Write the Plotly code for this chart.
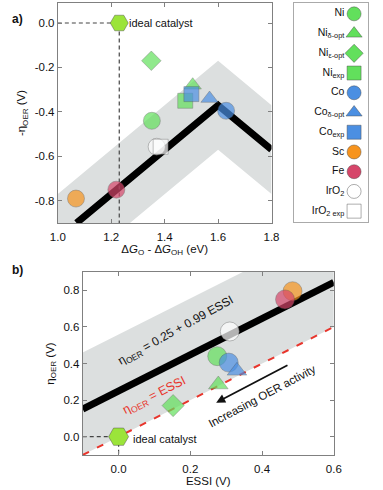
import plotly.graph_objects as go

# catalysts (same order in both panels and in the legend)
names = ["Ni", "Ni<sub>δ-opt</sub>", "Ni<sub>ε-opt</sub>", "Ni<sub>exp</sub>",
         "Co", "Co<sub>δ-opt</sub>", "Co<sub>exp</sub>", "Sc", "Fe",
         "IrO<sub>2</sub>", "IrO<sub>2 exp</sub>"]
symbols = ["circle", "triangle-up", "diamond", "square",
           "circle", "triangle-up", "square", "circle", "circle",
           "circle", "square"]
colors = ["#62e05c", "#62e05c", "#62e05c", "#62e05c",
          "#4b8fe2", "#4b8fe2", "#4b8fe2", "#f7941e", "#d6466a",
          "#ffffff", "#ffffff"]

# panel a: -eta_OER vs dG_O - dG_OH
a_x = [1.352, 1.505, 1.35, 1.477, 1.63, 1.568, 1.50, 1.068, 1.219, 1.37, 1.385]
a_y = [-0.44, -0.28, -0.17, -0.35, -0.395, -0.34, -0.32, -0.79, -0.75, -0.557, -0.557]

# panel b: eta_OER vs ESSI (no experimental points)
b_x = [0.275, 0.278, 0.152, None, 0.307, 0.33, None, 0.485, 0.464, 0.31, None]
b_y = [0.44, 0.285, 0.17, None, 0.405, 0.36, None, 0.795, 0.75, 0.575, None]

ideal_a = (1.23, 0.0)
ideal_b = (0.0, 0.0)

volc_x = [1.07, 1.6, 1.8]
volc_y = [-0.90, -0.37, -0.57]
band_a_x = [1.0, 1.6, 1.8]
band_a_hi = [-0.77, -0.17, -0.37]
band_a_lo = [-1.17, -0.57, -0.77]

fit_x = [-0.1, 0.6]
fit_y = [0.151, 0.844]
essi_y = [-0.1, 0.6]
band_b_hi = [0.46, 1.15]

W, H = 383, 490
def px(x):
    return x / W
def py(y):
    return 1 - y / H

MARK = dict(line=dict(color="rgba(70,70,70,0.55)", width=0.8))
GRAY = "#808080"
FONT = "Liberation Sans, Arial, sans-serif"

fig = go.Figure()

# ---------- panel a ----------
fig.add_trace(go.Scatter(x=band_a_x + band_a_x[::-1], y=band_a_hi + band_a_lo[::-1],
                         fill="toself", fillcolor="#dcdfdf", line=dict(width=0),
                         mode="lines", hoverinfo="skip", xaxis="x", yaxis="y"))
fig.add_trace(go.Scatter(x=volc_x, y=volc_y, mode="lines",
                         line=dict(color="black", width=7), xaxis="x", yaxis="y"))
fig.add_trace(go.Scatter(x=[1.0, ideal_a[0], ideal_a[0]], y=[ideal_a[1], ideal_a[1], -0.9],
                         mode="lines", line=dict(color="#444", width=1.2, dash="4px,3px"),
                         xaxis="x", yaxis="y"))
fig.add_trace(go.Scatter(x=a_x, y=a_y, mode="markers", xaxis="x", yaxis="y",
                         marker=dict(symbol=symbols, color=colors,
                                     size=[17, 15, 15, 15, 17, 15, 15, 17, 17, 17, 15], **MARK)))
fig.add_trace(go.Scatter(x=[ideal_a[0]], y=[ideal_a[1]], mode="markers", xaxis="x", yaxis="y",
                         marker=dict(symbol="hexagon2", color="#9be43a", size=18, **MARK)))

# ---------- panel b ----------
fig.add_trace(go.Scatter(x=fit_x + fit_x[::-1], y=band_b_hi + essi_y[::-1],
                         fill="toself", fillcolor="#dcdfdf", line=dict(width=0),
                         mode="lines", hoverinfo="skip", xaxis="x2", yaxis="y2"))
fig.add_trace(go.Scatter(x=fit_x, y=essi_y, mode="lines", xaxis="x2", yaxis="y2",
                         line=dict(color="#e8352c", width=2, dash="7px,9px")))
fig.add_trace(go.Scatter(x=fit_x, y=fit_y, mode="lines", xaxis="x2", yaxis="y2",
                         line=dict(color="black", width=7)))
fig.add_trace(go.Scatter(x=[-0.1, ideal_b[0], ideal_b[0]], y=[ideal_b[1], ideal_b[1], -0.1],
                         mode="lines", line=dict(color="#444", width=1.2, dash="4px,3px"),
                         xaxis="x2", yaxis="y2"))
fig.add_trace(go.Scatter(x=b_x, y=b_y, mode="markers", xaxis="x2", yaxis="y2",
                         marker=dict(symbol=symbols, color=colors,
                                     size=[19, 17, 17, 17, 19, 17, 17, 19, 19, 19, 17], **MARK)))
fig.add_trace(go.Scatter(x=[ideal_b[0]], y=[ideal_b[1]], mode="markers", xaxis="x2", yaxis="y2",
                         marker=dict(symbol="hexagon2", color="#9be43a", size=20, **MARK)))

# ---------- legend box ----------
leg_y = list(range(len(names)))
fig.add_trace(go.Scatter(x=[0.81] * len(names), y=leg_y, mode="markers+text",
                         text=names, textposition="middle left",
                         textfont=dict(size=10.5, color="#111", family=FONT),
                         xaxis="x3", yaxis="y3",
                         marker=dict(symbol=symbols, color=colors, size=14, **MARK)))

axis_common = dict(showline=True, linecolor=GRAY, linewidth=1, mirror="ticks",
                   ticks="inside", ticklen=4, tickcolor=GRAY, showgrid=False,
                   zeroline=False, tickfont=dict(size=11.5, color="#111"))

fig.update_layout(
    width=W, height=H, showlegend=False,
    margin=dict(l=0, r=0, t=0, b=0),
    plot_bgcolor="white", paper_bgcolor="white",
    font=dict(family=FONT, size=11.5, color="#111"),
    xaxis=dict(domain=[px(52), px(275)], range=[1.0, 1.8], anchor="y",
               tickvals=[1.0, 1.2, 1.4, 1.6, 1.8], ticktext=["1.0", "1.2", "1.4", "1.6", "1.8"],
               ticklabelstandoff=3,
               title=dict(text="Δ<i>G</i><sub>O</sub> - Δ<i>G</i><sub>OH</sub> (eV)",
                          font=dict(size=11.5), standoff=2),
               **axis_common),
    yaxis=dict(domain=[py(223), py(3)], range=[-0.9, 0.09], anchor="x",
               tickvals=[-0.8, -0.6, -0.4, -0.2, 0.0],
               ticktext=["-0.8", "-0.6", "-0.4", "-0.2", "0.0"],
               title=dict(text="-η<sub>OER</sub> (V)", font=dict(size=11.5), standoff=6),
               **axis_common),
    xaxis2=dict(domain=[px(78), px(340)], range=[-0.1, 0.6], anchor="y2",
                tickvals=[0.0, 0.2, 0.4, 0.6], ticktext=["0.0", "0.2", "0.4", "0.6"],
                ticklabelstandoff=3,
                title=dict(text="ESSI (V)", font=dict(size=11.5), standoff=3),
                **axis_common),
    yaxis2=dict(domain=[py(455), py(272)], range=[-0.1, 0.9], anchor="x2",
                tickvals=[0.0, 0.2, 0.4, 0.6, 0.8], ticktext=["0.0", "0.2", "0.4", "0.6", "0.8"],
                title=dict(text="η<sub>OER</sub> (V)", font=dict(size=11.5), standoff=6),
                **axis_common),
    xaxis3=dict(domain=[px(298), px(376)], range=[0, 1], anchor="y3",
                showline=True, linecolor="#aaa", mirror=True, showticklabels=False,
                ticks="", showgrid=False, zeroline=False),
    yaxis3=dict(domain=[py(222), py(3)], range=[10.55, -0.55], anchor="x3",
                showline=True, linecolor="#aaa", mirror=True, showticklabels=False,
                ticks="", showgrid=False, zeroline=False),
)

fig.add_annotation(text="<b>a)</b>", x=px(2), y=py(10), xref="paper", yref="paper",
                   xanchor="left", showarrow=False, font=dict(size=12))
fig.add_annotation(text="<b>b)</b>", x=px(2), y=py(270), xref="paper", yref="paper",
                   xanchor="left", showarrow=False, font=dict(size=12))
fig.add_annotation(text="ideal catalyst", x=1.26, y=0.0, xref="x", yref="y",
                   xanchor="left", showarrow=False, font=dict(size=11))
fig.add_annotation(text="ideal catalyst", x=0.035, y=-0.01, xref="x2", yref="y2",
                   xanchor="left", showarrow=False, font=dict(size=11))
fig.add_annotation(text="η<sub>OER</sub> = 0.25 + 0.99 ESSI", x=0.16, y=0.58,
                   xref="x2", yref="y2", textangle=-29, showarrow=False,
                   font=dict(size=12, color="#111"))
fig.add_annotation(text="η<sub>OER</sub> = ESSI", x=0.10, y=0.225,
                   xref="x2", yref="y2", textangle=-27, showarrow=False,
                   font=dict(size=12.5, color="#e8352c"))
fig.add_annotation(text="Increasing OER activity", x=0.40, y=0.225,
                   xref="x2", yref="y2", textangle=-28, showarrow=False,
                   font=dict(size=11.5, color="#111"))
fig.add_annotation(x=0.272, y=0.186, ax=0.475, ay=0.395, xref="x2", yref="y2",
                   axref="x2", ayref="y2", text="", showarrow=True,
                   arrowhead=2, arrowsize=1, arrowwidth=1.8, arrowcolor="#111")

# page body has a default 8px margin; drop it so the figure fills the window
fig.write_html("out.html", config={"displayModeBar": False},
               post_script="document.body.style.margin='0';")
